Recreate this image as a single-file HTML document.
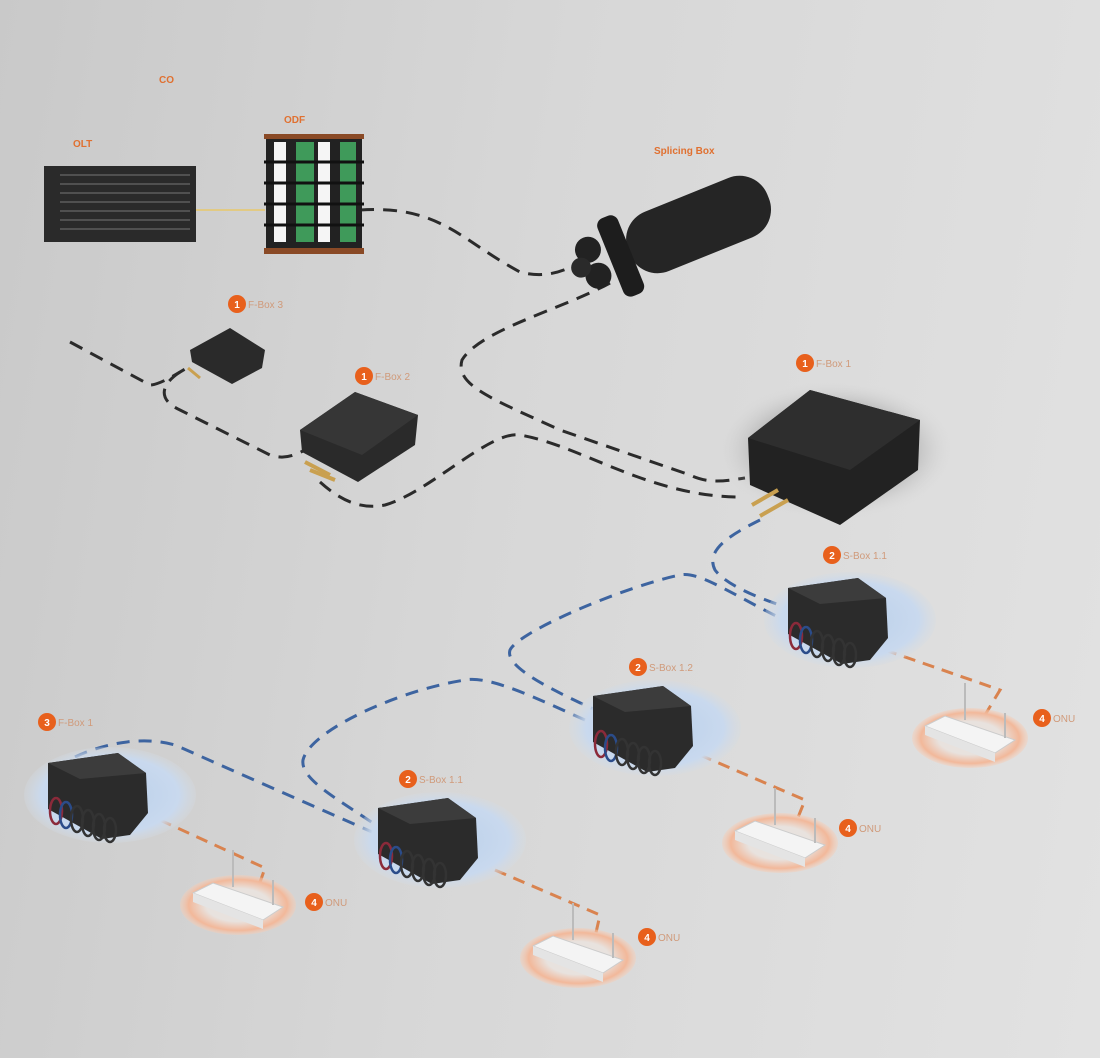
<!DOCTYPE html>
<html><head><meta charset="utf-8"><style>
html,body{margin:0;padding:0}
body{width:1100px;height:1058px;overflow:hidden;background:linear-gradient(100deg,#c9c9c9 0%,#d7d7d7 45%,#e2e2e2 100%);font-family:"Liberation Sans",sans-serif}
svg{position:absolute;left:0;top:0}
</style></head><body>
<svg width="1100" height="1058" viewBox="0 0 1100 1058">
<defs>
<radialGradient id="bl" cx="50%" cy="50%" r="50%"><stop offset="0" stop-color="#b9cfea"/><stop offset="0.8" stop-color="#c9d9ee"/><stop offset="1" stop-color="#d3dbe4" stop-opacity="0.3"/></radialGradient>
<radialGradient id="or" cx="50%" cy="50%" r="50%"><stop offset="0.55" stop-color="#e8e2de"/><stop offset="0.85" stop-color="#f2b89a"/><stop offset="1" stop-color="#f6cdb6" stop-opacity="0.4"/></radialGradient>
<radialGradient id="sh" cx="50%" cy="50%" r="50%"><stop offset="0.5" stop-color="#555" stop-opacity="0.5"/><stop offset="1" stop-color="#ddd" stop-opacity="0"/></radialGradient>
<g id="sbox">
<ellipse cx="0" cy="0" rx="86" ry="48" fill="url(#bl)"/>
<polygon points="-62,-32 8,-42 36,-22 38,18 20,40 -8,44 -62,14" fill="#2b2b2b"/>
<polygon points="-62,-32 8,-42 36,-22 -30,-16" fill="#3c3c3c"/>
<g fill="none" stroke-width="2.5">
<ellipse cx="-54" cy="16" rx="6" ry="13" stroke="#8b2a3a"/><ellipse cx="-44" cy="20" rx="6" ry="13" stroke="#2b4c8a"/>
<ellipse cx="-33" cy="24" rx="6" ry="13" stroke="#333"/><ellipse cx="-22" cy="28" rx="6" ry="13" stroke="#333"/>
<ellipse cx="-11" cy="32" rx="6" ry="13" stroke="#333"/><ellipse cx="0" cy="35" rx="6" ry="12" stroke="#333"/></g>
</g>
<g id="onu">
<ellipse cx="0" cy="0" rx="58" ry="30" fill="url(#or)"/>
<polygon points="-45,-12 -25,-22 45,2 25,15" fill="#f4f4f4" stroke="#ccc"/>
<polygon points="-45,-12 25,15 25,24 -45,-3" fill="#e4e4e4"/>
<line x1="-5" y1="-18" x2="-5" y2="-55" stroke="#bbb" stroke-width="2"/>
<line x1="35" y1="0" x2="35" y2="-25" stroke="#bbb" stroke-width="2"/>
</g>
</defs>

<!-- black dashed -->
<g fill="none" stroke="#2b2b2b" stroke-width="3" stroke-dasharray="14 9">
<path d="M360,210 C440,205 460,240 520,272 C550,280 570,268 588,258"/>
<path d="M610,283 C560,310 480,330 462,360 C455,385 490,398 560,430 L690,475 C710,485 730,480 745,478"/>
<path d="M70,342 L150,385 C160,385 180,372 190,366"/>
<path d="M180,372 C160,385 158,400 180,410 L270,455 C285,460 295,455 305,450"/>
<path d="M320,482 C340,500 360,510 385,505 C430,492 490,430 520,435 C580,445 650,497 740,497"/>
</g>
<!-- blue dashed -->
<g fill="none" stroke="#3d64a0" stroke-width="3" stroke-dasharray="13 9">
<path d="M760,520 C730,535 705,550 715,570 C730,590 780,605 800,612"/>
<path d="M795,625 C740,600 700,570 680,575 C630,585 520,630 510,650 C505,665 540,685 600,712"/>
<path d="M585,720 C540,700 490,675 465,680 C400,690 310,730 303,760 C300,780 340,800 380,828"/>
<path d="M75,757 C100,745 140,735 175,745 L372,832"/>
</g>
<!-- orange dashed -->
<g fill="none" stroke="#d9834f" stroke-width="3" stroke-dasharray="12 8">
<path d="M885,650 L1000,690 L985,715"/>
<path d="M700,755 L805,800 L795,825"/>
<path d="M160,820 L265,868 L258,888"/>
<path d="M495,870 L600,915 L595,937"/>
</g>

<!-- OLT -->
<rect x="44" y="166" width="152" height="76" fill="#2a2a2a"/>
<g stroke="#777" stroke-width="1">
<line x1="60" y1="175" x2="190" y2="175"/><line x1="60" y1="184" x2="190" y2="184"/><line x1="60" y1="193" x2="190" y2="193"/>
<line x1="60" y1="202" x2="190" y2="202"/><line x1="60" y1="211" x2="190" y2="211"/><line x1="60" y1="220" x2="190" y2="220"/><line x1="60" y1="229" x2="190" y2="229"/></g>
<line x1="196" y1="210" x2="265" y2="210" stroke="#e8c86a" stroke-width="1.5"/>
<!-- ODF -->
<rect x="264" y="134" width="100" height="5" fill="#8a4a26"/>
<rect x="264" y="248" width="100" height="6" fill="#8a4a26"/>
<rect x="266" y="139" width="96" height="109" fill="#222"/>
<g fill="#f5f5f5"><rect x="274" y="142" width="12" height="100"/><rect x="318" y="142" width="12" height="100"/></g>
<g fill="#3f9a5a"><rect x="296" y="142" width="18" height="100"/><rect x="340" y="142" width="16" height="100"/></g>
<g stroke="#111" stroke-width="3"><line x1="264" y1="162" x2="364" y2="162"/><line x1="264" y1="183" x2="364" y2="183"/><line x1="264" y1="204" x2="364" y2="204"/><line x1="264" y1="225" x2="364" y2="225"/></g>

<!-- splicing box -->
<g transform="translate(680,232) rotate(-22)">
<rect x="-55" y="-32" width="150" height="64" rx="30" fill="#252525"/>
<rect x="-75" y="-42" width="22" height="84" rx="8" fill="#1d1d1d"/>
<circle cx="-92" cy="-18" r="13" fill="#222"/><circle cx="-92" cy="10" r="13" fill="#222"/><circle cx="-105" cy="-4" r="10" fill="#2a2a2a"/>
</g>

<!-- F-Box 3 small -->
<polygon points="190,350 230,328 265,350 262,368 232,384 192,362" fill="#2a2a2a"/>
<line x1="188" y1="368" x2="200" y2="378" stroke="#c9a050" stroke-width="3"/>
<!-- F-Box 2 -->
<polygon points="300,430 355,392 418,415 415,445 358,482 302,452" fill="#2a2a2a"/>
<polygon points="300,430 355,392 418,415 362,455" fill="#363636"/>
<line x1="305" y1="462" x2="330" y2="475" stroke="#c9a050" stroke-width="4"/><line x1="310" y1="470" x2="335" y2="480" stroke="#c9a050" stroke-width="4"/>
<!-- F-Box 1 -->
<ellipse cx="835" cy="450" rx="120" ry="70" fill="url(#sh)"/>
<polygon points="748,438 810,390 920,420 918,470 840,525 750,485" fill="#222"/>
<polygon points="748,438 810,390 920,420 850,470" fill="#2e2e2e"/>
<line x1="752" y1="505" x2="778" y2="490" stroke="#c9a050" stroke-width="4"/><line x1="760" y1="516" x2="788" y2="500" stroke="#c9a050" stroke-width="4"/>

<use href="#sbox" x="850" y="620"/>
<use href="#sbox" x="655" y="728"/>
<use href="#sbox" x="440" y="840"/>
<use href="#sbox" x="110" y="795"/>
<use href="#onu" x="970" y="738"/>
<use href="#onu" x="780" y="843"/>
<use href="#onu" x="238" y="905"/>
<use href="#onu" x="578" y="958"/>

<!-- labels -->
<g font-size="10" fill="#e07030" font-weight="bold"><text x="159" y="83">CO</text><text x="284" y="123">ODF</text><text x="73" y="147">OLT</text><text x="654" y="154">Splicing Box</text></g>
<g fill="#e8601c"><circle cx="237" cy="304" r="9"/><circle cx="364" cy="376" r="9"/><circle cx="805" cy="363" r="9"/><circle cx="832" cy="555" r="9"/><circle cx="638" cy="667" r="9"/><circle cx="47" cy="722" r="9"/><circle cx="408" cy="779" r="9"/><circle cx="1042" cy="718" r="9"/><circle cx="848" cy="828" r="9"/><circle cx="314" cy="902" r="9"/><circle cx="647" cy="937" r="9"/></g>
<g font-size="10" fill="#fff" font-weight="bold" text-anchor="middle"><text x="237" y="308">1</text><text x="364" y="380">1</text><text x="805" y="367">1</text><text x="832" y="559">2</text><text x="638" y="671">2</text><text x="47" y="726">3</text><text x="408" y="783">2</text><text x="1042" y="722">4</text><text x="848" y="832">4</text><text x="314" y="906">4</text><text x="647" y="941">4</text></g>
<g font-size="10" fill="#d09a7a"><text x="248" y="308">F-Box 3</text><text x="375" y="380">F-Box 2</text><text x="816" y="367">F-Box 1</text><text x="843" y="559">S-Box 1.1</text><text x="649" y="671">S-Box 1.2</text><text x="58" y="726">F-Box 1</text><text x="419" y="783">S-Box 1.1</text><text x="1053" y="722">ONU</text><text x="859" y="832">ONU</text><text x="325" y="906">ONU</text><text x="658" y="941">ONU</text></g>
</svg>
</body></html>
